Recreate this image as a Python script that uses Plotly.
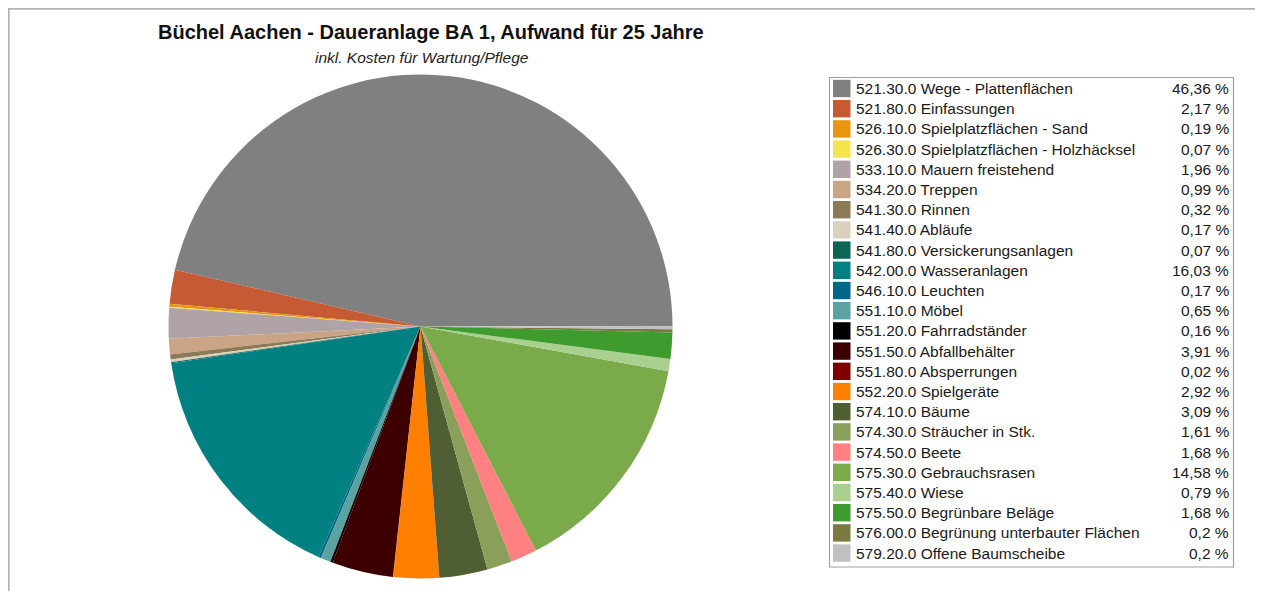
import plotly.graph_objects as go

# Page body has an 8px margin; the figure fills the rest of the 1263x591 window.
OFF = 8
W, H = 1263 - OFF, 591 - OFF

labels = [
    "521.30.0 Wege - Plattenflächen",
    "521.80.0 Einfassungen",
    "526.10.0 Spielplatzflächen - Sand",
    "526.30.0 Spielplatzflächen - Holzhäcksel",
    "533.10.0 Mauern freistehend",
    "534.20.0 Treppen",
    "541.30.0 Rinnen",
    "541.40.0 Abläufe",
    "541.80.0 Versickerungsanlagen",
    "542.00.0 Wasseranlagen",
    "546.10.0 Leuchten",
    "551.10.0 Möbel",
    "551.20.0 Fahrradständer",
    "551.50.0 Abfallbehälter",
    "551.80.0 Absperrungen",
    "552.20.0 Spielgeräte",
    "574.10.0 Bäume",
    "574.30.0 Sträucher in Stk.",
    "574.50.0 Beete",
    "575.30.0 Gebrauchsrasen",
    "575.40.0 Wiese",
    "575.50.0 Begrünbare Beläge",
    "576.00.0 Begrünung unterbauter Flächen",
    "579.20.0 Offene Baumscheibe",
]
values = [46.36, 2.17, 0.19, 0.07, 1.96, 0.99, 0.32, 0.17, 0.07, 16.03, 0.17, 0.65,
          0.16, 3.91, 0.02, 2.92, 3.09, 1.61, 1.68, 14.58, 0.79, 1.68, 0.2, 0.2]
pct_text = ["46,36 %", "2,17 %", "0,19 %", "0,07 %", "1,96 %", "0,99 %", "0,32 %", "0,17 %",
            "0,07 %", "16,03 %", "0,17 %", "0,65 %", "0,16 %", "3,91 %", "0,02 %", "2,92 %",
            "3,09 %", "1,61 %", "1,68 %", "14,58 %", "0,79 %", "1,68 %", "0,2 %", "0,2 %"]
colors = ["#808080", "#C55A35", "#E8960F", "#F5E44A", "#B0A3A8", "#C9A585", "#8B7A55",
          "#DAD0BC", "#0B6655", "#008080", "#00668A", "#5BA3A0", "#000000", "#3D0000",
          "#800000", "#FF8000", "#4F5E33", "#8AA05A", "#FF8080", "#7BAA4B", "#A9D08E",
          "#3E9B2E", "#7A7A40", "#C0C0C0"]

title = "Büchel Aachen - Daueranlage BA 1, Aufwand für 25 Jahre"
subtitle = "inkl. Kosten für Wartung/Pflege"


def px(x):
    """screen x -> paper x"""
    return (x - OFF) / W


def py(y):
    """screen y -> paper y"""
    return 1 - (y - OFF) / H


FONT = "Liberation Sans, Arial, sans-serif"

fig = go.Figure()
fig.add_trace(go.Pie(
    labels=labels, values=values, sort=False, direction="counterclockwise",
    rotation=-77, textinfo="none", showlegend=False,
    marker=dict(colors=colors, line=dict(width=0)),
    domain=dict(x=[px(168.5), px(672.5)], y=[py(578.5), py(74.5)]),
))

shapes = [
    dict(type="line", xref="paper", yref="paper", x0=0, x1=1, y0=py(8.6), y1=py(8.6),
         line=dict(color="#B4B4B4", width=2.2)),
    dict(type="line", xref="paper", yref="paper", x0=px(8.6), x1=px(8.6), y0=1, y1=0,
         line=dict(color="#B4B4B4", width=2.2)),
    dict(type="rect", xref="paper", yref="paper", x0=px(829.5), x1=px(1233.5), y0=py(567), y1=py(77.5),
         line=dict(color="#A0A0A0", width=1.2), fillcolor="rgba(0,0,0,0)"),
]
annotations = [
    dict(text="<b>" + title + "</b>", x=px(431), y=py(32), xref="paper", yref="paper",
         showarrow=False, xanchor="center", yanchor="middle",
         font=dict(family=FONT, size=20, color="#111111")),
    dict(text="<i>" + subtitle + "</i>", x=px(422), y=py(58), xref="paper", yref="paper",
         showarrow=False, xanchor="center", yanchor="middle",
         font=dict(family=FONT, size=15.5, color="#222222")),
]

row0, step = 88.5, 20.2
for i, (lab, pt, c) in enumerate(zip(labels, pct_text, colors)):
    yc = row0 + i * step
    shapes.append(dict(type="rect", xref="paper", yref="paper",
                       x0=px(833), x1=px(850.5), y0=py(yc + 8.7), y1=py(yc - 8.7),
                       fillcolor=c, line=dict(width=0)))
    annotations.append(dict(text=lab, x=px(854), y=py(yc), xref="paper", yref="paper",
                            showarrow=False, xanchor="left", yanchor="middle",
                            font=dict(family=FONT, size=15.5, color="#1a1a1a")))
    annotations.append(dict(text=pt, x=px(1231), y=py(yc), xref="paper", yref="paper",
                            showarrow=False, xanchor="right", yanchor="middle",
                            font=dict(family=FONT, size=15.5, color="#1a1a1a")))

fig.update_layout(
    width=W, height=H, margin=dict(l=0, r=0, t=0, b=0),
    paper_bgcolor="white", plot_bgcolor="white",
    shapes=shapes, annotations=annotations,
)

fig.write_html("out.html")
